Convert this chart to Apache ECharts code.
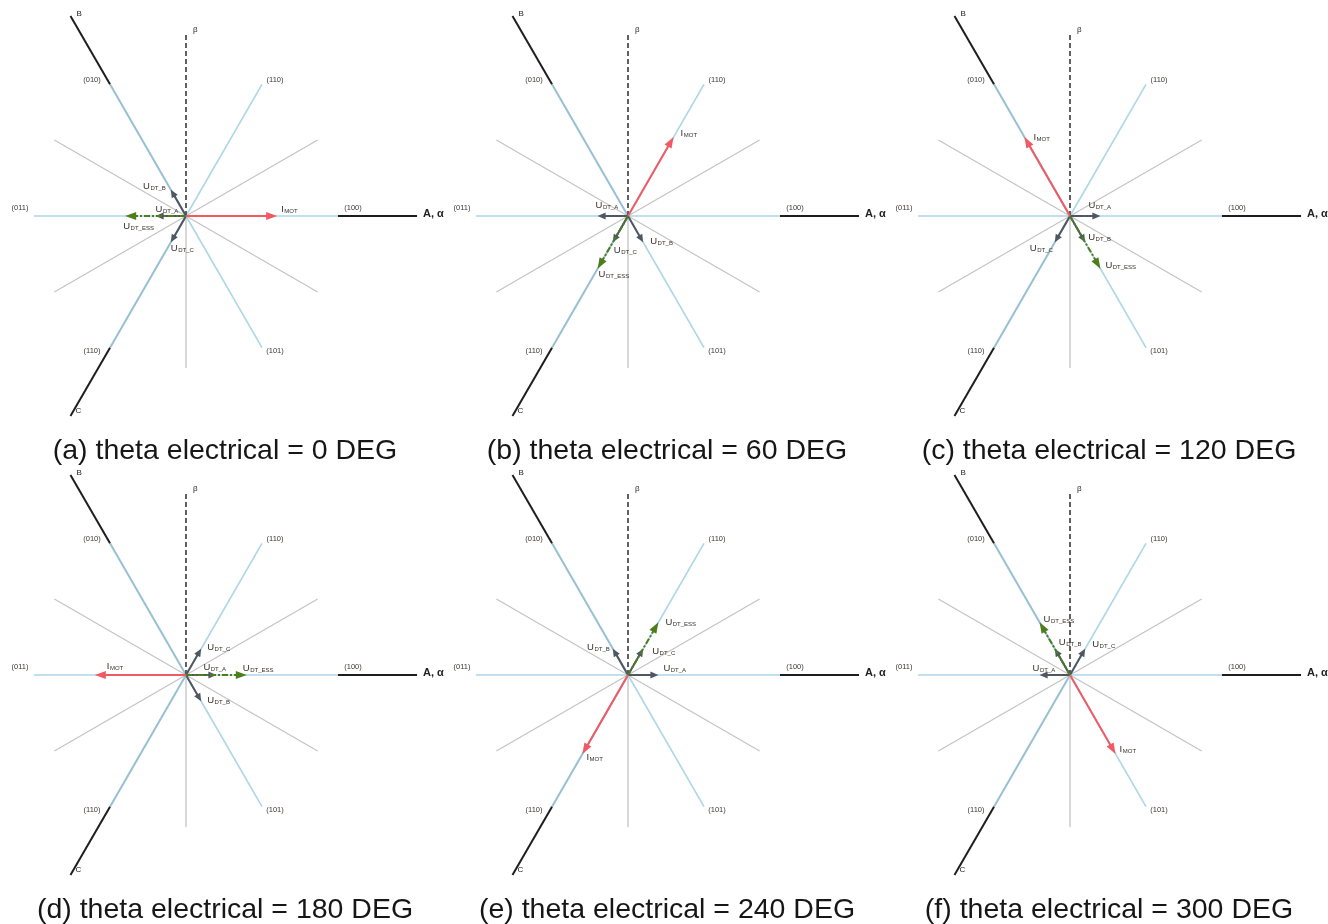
<!DOCTYPE html>
<html>
<head>
<meta charset="utf-8">
<script src="https://cdn.jsdelivr.net/npm/echarts@6/dist/echarts.min.js"></script>
<style>
  html, body { margin: 0; padding: 0; background: #fff; }
  #chart { width: 1328px; height: 924px; }
</style>
</head>
<body>
<div id="chart"></div>
<script>
// panel captions and the electrical angle of I_MOT in each panel
const panelTitles = [
  '(a) theta electrical = 0 DEG',
  '(b) theta electrical = 60 DEG',
  '(c) theta electrical = 120 DEG',
  '(d) theta electrical = 180 DEG',
  '(e) theta electrical = 240 DEG',
  '(f) theta electrical = 300 DEG'
]
const iMotDeg = [0, 60, 120, 180, 240, 300]
const iMotLen = [0.6, 0.6, 0.6, 0.6, 0.6, 0.6]

// dead time voltage vectors (direction in degrees, length relative to hexagon radius)
const uDtADeg = [180, 180, 0, 0, 0, 180]
const uDtBDeg = [120, 300, 300, 300, 120, 120]
const uDtCDeg = [240, 240, 240, 60, 60, 60]
const uDtEssDeg = [180, 240, 300, 0, 60, 120]
const uDtLen = [0.2, 0.2, 0.2, 0.2, 0.2, 0.2]
const uDtEssLen = [0.4, 0.4, 0.4, 0.4, 0.4, 0.4]

// switching state spokes and sector borders
const spokeDeg = [0, 60, 120, 180, 240, 300]
const spokeLabels = ['(100)', '(110)', '(010)', '(011)', '(110)', '(101)']
const sectorDeg = [30, 150, 210, 330]

// phase axes
const phaseDeg = [0, 120, 240]
const phaseNames = ['A, α', 'B', 'C']
const phaseLen = 1.52
const betaLen = 1.21

const vecTexts = ['I{s|MOT}', 'U{s|DT_A}', 'U{s|DT_B}', 'U{s|DT_C}', 'U{s|DT_ESS}']

// label placement (pixel offset from arrow tip, alignment) per panel: IMOT, A, B, C, ESS
const vecLabelOff = [
  [[4, -7, 'left'], [0, -7, 'left'], [-5, -3, 'right'], [0, 6, 'left'], [-2, 10, 'left']],
  [[7, -4, 'left'], [-2, -11, 'left'], [7, -1, 'left'], [1, 8, 'left'], [1, 6, 'left']],
  [[9, 0, 'left'], [-12, -11, 'left'], [3, -5, 'left'], [-2, 6, 'right'], [5, -3, 'left']],
  [[12, -9, 'left'], [-13, -8, 'left'], [6, -1, 'left'], [6, -1, 'left'], [-4, -7, 'left']],
  [[4, 3, 'left'], [5, -7, 'left'], [-3, -1, 'right'], [9, 3, 'left'], [7, 0, 'left']],
  [[4, -5, 'left'], [-7, -7, 'left'], [4, -6, 'left'], [7, -4, 'left'], [4, -3, 'left']]
]
const spokeLabelOff = [[15, -8], [13, -4], [-18, -4], [-14, -8], [-18, 3], [13, 3]]
const phaseLabelOff = [[6, -2], [6, -2], [5, -5]]

// layout: centre of each panel in pixels, 152 px per unit
const colX = [186, 628, 1070]
const rowY = [216, 675]
const unit = 152
const xHalf = 1.2
const yHalf = 1.4

const styles = {
  sector: { stroke: '#c4c4c4', lineWidth: 1.2 },
  spoke: { stroke: '#add6e8', lineWidth: 1.6 },
  spokeDark: { stroke: '#98bfd2', lineWidth: 2 },
  phase: { stroke: '#1e1e1e', lineWidth: 2 },
  beta: { stroke: '#3a3a3a', lineWidth: 1.6, lineDash: [5, 3] },
  betaLow: { stroke: '#cfcfcf', lineWidth: 1.6 },
  uDt: { stroke: '#4f5862', lineWidth: 2, head: [8, 7] },
  ess: { stroke: '#4e7d1e', lineWidth: 2, lineDash: [6, 2, 2, 2], head: [11, 8] },
  iMot: { stroke: '#f05a64', lineWidth: 2, head: [11, 8] }
}

const rad = d => d * Math.PI / 180
const pt = (deg, r) => [Math.cos(rad(deg)) * r, Math.sin(rad(deg)) * r]

function buildItems(p) {
  const items = []
  sectorDeg.forEach(d => items.push({ v: [0, 0, ...pt(d, 1)], kind: 'sector' }))
  items.push({ v: [0, 0, 0, -1], kind: 'betaLow' })
  spokeDeg.forEach(d => items.push({ v: [0, 0, ...pt(d, 1)], kind: (d === 120 || d === 240) ? 'spokeDark' : 'spoke' }))
  phaseDeg.forEach(d => items.push({ v: [...pt(d, 1), ...pt(d, phaseLen)], kind: 'phase' }))
  items.push({ v: [0, 0, 0, betaLen], kind: 'beta' })

  const vecs = [
    [iMotDeg[p], iMotLen[p], 'iMot'],
    [uDtADeg[p], uDtLen[p], 'uDt'],
    [uDtBDeg[p], uDtLen[p], 'uDt'],
    [uDtCDeg[p], uDtLen[p], 'uDt'],
    [uDtEssDeg[p], uDtEssLen[p], 'ess']
  ]
  // draw grey first, then green, then red
  ;[1, 2, 3, 4, 0].forEach(i => {
    items.push({ v: [0, 0, ...pt(vecs[i][0], vecs[i][1])], kind: vecs[i][2] })
  })
  vecs.forEach((vv, i) => {
    const tip = pt(vv[0], vv[1])
    const o = vecLabelOff[p][i]
    items.push({ v: [...tip, ...tip], kind: 'vecText', text: vecTexts[i], off: o })
  })
  spokeDeg.forEach((d, i) => {
    const tip = pt(d, 1)
    items.push({ v: [...tip, ...tip], kind: 'spokeText', text: spokeLabels[i], off: spokeLabelOff[i] })
  })
  phaseDeg.forEach((d, i) => {
    const tip = pt(d, phaseLen)
    items.push({ v: [...tip, ...tip], kind: i === 0 ? 'axisTextA' : 'axisText', text: phaseNames[i], off: phaseLabelOff[i] })
  })
  items.push({ v: [0, betaLen, 0, betaLen], kind: 'axisText', text: 'β', off: [7, -2] })
  return items
}

function makeRender(items) {
  return function (params, api) {
    const it = items[params.dataIndex]
    const p1 = api.coord([api.value(0), api.value(1)])
    const p2 = api.coord([api.value(2), api.value(3)])
    if (it.kind === 'vecText') {
      return {
        type: 'text', x: p2[0] + it.off[0], y: p2[1] + it.off[1],
        style: {
          text: it.text, align: it.off[2], verticalAlign: 'middle',
          fill: '#35302b', fontFamily: 'Liberation Sans, Arial', fontSize: 9.5,
          rich: {
            s: { fontSize: 6, lineHeight: 7, fill: '#35302b', fontFamily: 'Liberation Sans, Arial', verticalAlign: 'bottom', padding: [0, 0, 0, 0.5] }
          }
        }
      }
    }
    if (it.kind === 'spokeText' || it.kind === 'axisText' || it.kind === 'axisTextA') {
      const isSpoke = it.kind === 'spokeText'
      return {
        type: 'text', x: p2[0] + it.off[0], y: p2[1] + it.off[1],
        style: {
          text: it.text, align: isSpoke ? 'center' : 'left', verticalAlign: 'middle',
          fill: isSpoke ? '#3c3732' : '#222',
          fontFamily: 'Liberation Sans, Arial',
          fontSize: isSpoke ? 7.5 : (it.kind === 'axisTextA' ? 11 : 8),
          fontWeight: it.kind === 'axisTextA' ? 'bold' : 'normal'
        }
      }
    }
    const st = styles[it.kind]
    if (!st.head) {
      return {
        type: 'line',
        shape: { x1: p1[0], y1: p1[1], x2: p2[0], y2: p2[1] },
        style: { stroke: st.stroke, lineWidth: st.lineWidth, lineDash: st.lineDash || null }
      }
    }
    const dx = p2[0] - p1[0]
    const dy = p2[1] - p1[1]
    const len = Math.sqrt(dx * dx + dy * dy)
    const ux = dx / len
    const uy = dy / len
    const hl = st.head[0]
    const hw = st.head[1] / 2
    const bx = p2[0] - ux * hl
    const by = p2[1] - uy * hl
    return {
      type: 'group',
      children: [
        {
          type: 'line',
          shape: { x1: p1[0], y1: p1[1], x2: bx + ux * 2, y2: by + uy * 2 },
          style: { stroke: st.stroke, lineWidth: st.lineWidth, lineDash: st.lineDash || null }
        },
        {
          type: 'polygon',
          shape: { points: [[p2[0], p2[1]], [bx - uy * hw, by + ux * hw], [bx + uy * hw, by - ux * hw]] },
          style: { fill: st.stroke }
        }
      ]
    }
  }
}

const chart = echarts.init(document.getElementById('chart'), null, { renderer: 'canvas' })

const grids = []
const xAxes = []
const yAxes = []
const series = []
const titles = []

panelTitles.forEach((t, p) => {
  const cx = colX[p % 3]
  const cy = rowY[Math.floor(p / 3)]
  grids.push({
    left: cx - xHalf * unit, top: cy - yHalf * unit,
    width: 2 * xHalf * unit, height: 2 * yHalf * unit
  })
  xAxes.push({ type: 'value', gridIndex: p, min: -xHalf, max: xHalf, show: false })
  yAxes.push({ type: 'value', gridIndex: p, min: -yHalf, max: yHalf, show: false })
  const items = buildItems(p)
  series.push({
    type: 'custom',
    xAxisIndex: p,
    yAxisIndex: p,
    silent: true,
    clip: false,
    renderItem: makeRender(items),
    encode: { x: [0, 2], y: [1, 3] },
    data: items.map(it => it.v)
  })
  titles.push({
    text: t,
    left: cx + 34,
    top: cy + 216,
    textAlign: 'center',
    textStyle: { fontFamily: 'Liberation Sans, Arial', fontSize: 28.5, fontWeight: 'normal', color: '#161616' }
  })
})

chart.setOption({
  backgroundColor: '#ffffff',
  animation: false,
  title: titles,
  grid: grids,
  xAxis: xAxes,
  yAxis: yAxes,
  series: series
})
</script>
</body>
</html>
